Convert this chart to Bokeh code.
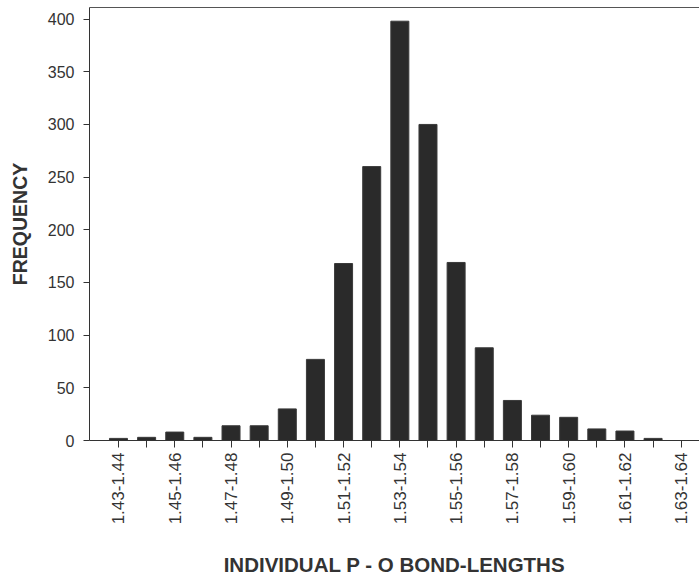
import math
from bokeh.plotting import figure
from bokeh.models import Range1d, FixedTicker, LinearAxis, ColumnDataSource
from bokeh.embed import file_html
from bokeh.resources import INLINE

bins = ["1.43-1.44", "1.44-1.45", "1.45-1.46", "1.46-1.47", "1.47-1.48", "1.48-1.49",
        "1.49-1.50", "1.50-1.51", "1.51-1.52", "1.52-1.53", "1.53-1.54", "1.54-1.55",
        "1.55-1.56", "1.56-1.57", "1.57-1.58", "1.58-1.59", "1.59-1.60", "1.60-1.61",
        "1.61-1.62", "1.62-1.63", "1.63-1.64"]
frequency = [2, 3, 8, 3, 14, 14, 30, 77, 168, 260, 398, 300, 169, 88, 38, 24, 22, 11, 9, 2, 0]
y_ticks = [0, 50, 100, 150, 200, 250, 300, 350, 400]

FONT = "Liberation Sans"
INK = "#333333"

idx = list(range(len(bins)))
src = ColumnDataSource(dict(x=idx, top=frequency, label=bins))

p = figure(width=699, height=579, x_range=Range1d(-1.03, 20.65), y_range=Range1d(0, 411),
           output_backend="svg", toolbar_location=None,
           min_border_left=89, min_border_right=0, min_border_top=7, min_border_bottom=139)
p.outline_line_color = None
p.xgrid.visible = False
p.ygrid.visible = False
p.background_fill_color = "white"
p.border_fill_color = "white"

p.vbar(x="x", top="top", width=0.64, bottom=0, source=src,
       fill_color="#2a2a2a", line_color="#3a3a3a", line_width=1)

# y axis
ya = p.yaxis[0]
ya.ticker = FixedTicker(ticks=y_ticks)
ya.minor_tick_line_color = None
ya.major_tick_in = 0
ya.major_tick_out = 6
ya.major_label_standoff = 9
ya.major_label_text_font = FONT
ya.major_label_text_font_size = "16px"
ya.major_label_text_color = INK
ya.axis_line_color = INK
ya.major_tick_line_color = INK
ya.axis_label = "FREQUENCY"
ya.axis_label_text_font = FONT
ya.axis_label_text_font_style = "bold"
ya.axis_label_text_font_size = "19.5px"
ya.axis_label_text_color = INK
ya.axis_label_standoff = 14

# x axis
xa = p.xaxis[0]
xa.ticker = FixedTicker(ticks=idx)
xa.major_label_overrides = {i: (bins[i] if i % 2 == 0 else "") for i in idx}
xa.major_label_orientation = math.pi / 2
xa.minor_tick_line_color = None
xa.major_tick_in = 0
xa.major_tick_out = 7
xa.major_label_standoff = 5
xa.major_label_text_font = FONT
xa.major_label_text_font_size = "17px"
xa.major_label_text_color = INK
xa.axis_line_color = INK
xa.major_tick_line_color = INK
xa.axis_label = "INDIVIDUAL P - O BOND-LENGTHS"
xa.axis_label_text_font = FONT
xa.axis_label_text_font_style = "bold"
xa.axis_label_text_font_size = "20.5px"
xa.axis_label_text_color = INK
xa.axis_label_standoff = 26

# top border line
top = LinearAxis(ticker=FixedTicker(ticks=[]), axis_line_color="#555555",
                 major_label_text_font_size="0px", major_tick_line_color=None,
                 minor_tick_line_color=None)
p.add_layout(top, "above")

open("out.html", "w").write(file_html(p, INLINE))
